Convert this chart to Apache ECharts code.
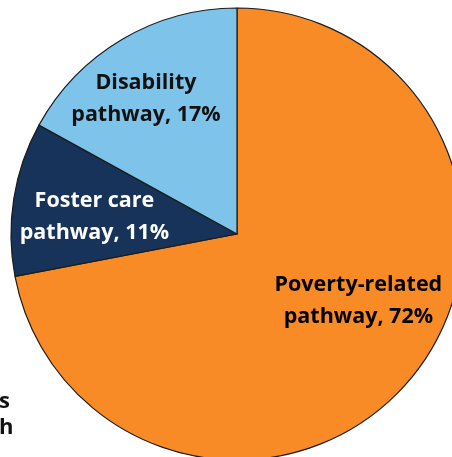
<!DOCTYPE html>
<html>
<head>
<meta charset="utf-8">
<script src="https://cdn.jsdelivr.net/npm/echarts@6/dist/echarts.min.js"></script>
<style>
  html, body { margin: 0; padding: 0; background: #ffffff; }
  #chart { width: 452px; height: 457px; }
</style>
</head>
<body>
<div id="chart"></div>
<script>
// Pathway shares (percent), drawn clockwise from 12 o'clock
const categories = ['Poverty-related pathway', 'Foster care pathway', 'Disability pathway'];
const labelLines = [['Poverty-related', 'pathway'], ['Foster care', 'pathway'], ['Disability', 'pathway']];
const shares = [72, 11, 17];

const sliceColors = ['#F98B26', '#17335A', '#7DC3EA'];
const labelColors = ['#000000', '#FFFFFF', '#111111'];
// nudges from the default inside label position
const labelShift = [[32, -7], [-28, 1], [-32, -35]];

const chart = echarts.init(document.getElementById('chart'), null, { renderer: 'canvas' });

const data = categories.map((name, i) => ({
  name: name,
  value: shares[i],
  itemStyle: { color: sliceColors[i] },
  label: {
    color: labelColors[i],
    formatter: p => labelLines[i][0] + '\n' + labelLines[i][1] + ', ' + p.value + '%'
  }
}));

chart.setOption({
  animation: false,
  series: [{
    type: 'pie',
    center: [237, 234],
    radius: [0, 226],
    startAngle: 90,
    clockwise: true,
    data: data,
    itemStyle: { borderColor: '#1b1b1b', borderWidth: 1.2 },
    label: {
      show: true,
      position: 'inside',
      fontFamily: 'Open Sans',
      fontWeight: 'bold',
      fontSize: 21.5,
      lineHeight: 32,
      align: 'center'
    },
    labelLine: { show: false },
    labelLayout: p => ({ dx: labelShift[p.dataIndex][0], dy: labelShift[p.dataIndex][1] }),
    emphasis: { disabled: true }
  }],
  graphic: [
    { type: 'text', left: -1, top: 391, style: { text: 's', fontFamily: 'Open Sans', fontWeight: 'bold', fontSize: 22, fill: '#111' } },
    { type: 'text', left: -1, top: 417, style: { text: 'h', fontFamily: 'Open Sans', fontWeight: 'bold', fontSize: 22, fill: '#111' } }
  ]
});
</script>
</body>
</html>
